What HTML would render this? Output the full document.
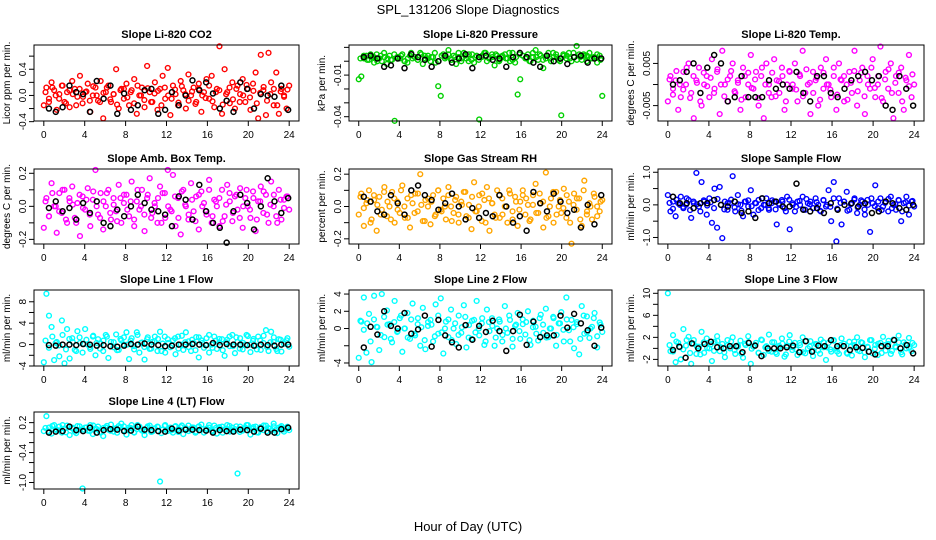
<!DOCTYPE html>
<html><head><meta charset="utf-8"><title>SPL_131206 Slope Diagnostics</title>
<style>
html,body{margin:0;padding:0;background:#fff;}
svg{display:block;font-family:"Liberation Sans",sans-serif;}
</style></head>
<body>
<svg id="chart" width="936" height="540" viewBox="0 0 936 540" xmlns="http://www.w3.org/2000/svg">
<rect x="0" y="0" width="936" height="540" fill="#fff"/>
<text x="468" y="14" text-anchor="middle" font-size="13">SPL_131206  Slope Diagnostics</text>
<text x="468" y="531" text-anchor="middle" font-size="13">Hour of Day (UTC)</text>
</svg>
<script>
const xTicks = [0,4,8,12,16,20,24];

const co2Vals = [-0.15,0.12,-0.05,0.2,0.08,-0.22,0.02,0.15,-0.1,0.05,-0.18,0.22,0.1,-0.02,0.3,-0.12,0.05,0.18,-0.25,0.0,0.12,-0.08,0.22,-0.35,0.05,0.15,-0.1,0.02,0.4,-0.2,0.1,-0.05,0.18,-0.15,0.08,0.25,-0.28,0.0,0.12,-0.18,0.45,0.05,-0.1,0.2,-0.22,0.1,0.3,-0.05,0.42,-0.3,0.15,0.02,-0.15,0.22,0.08,-0.2,0.32,0.0,0.12,-0.1,0.18,-0.25,0.05,0.25,-0.05,0.3,-0.18,0.1,0.75,-0.28,0.4,0.05,-0.12,0.2,-0.2,0.15,0.02,0.25,-0.1,0.1,-0.22,0.18,0.35,-0.35,0.62,0.08,-0.3,0.65,0.2,-0.15,0.35,-0.28,0.1,0.0,-0.2,0.15];
const co2Dense = [0.05,-0.1,0.12,0.0,-0.05,0.15,-0.12,0.08,0.02,-0.15,0.1,-0.02,0.06,-0.08,0.14,0.0,-0.1,0.04,0.12,-0.06,0.02,-0.14,0.08,0.1,-0.03,0.05,-0.12,0.15,0.0,-0.07,0.11,-0.1,0.03,0.07,-0.15,0.12,0.0,-0.05,0.09,-0.11,0.14,0.02,-0.08,0.06,-0.13,0.1,0.0,-0.04,0.15,-0.09,0.05,0.08,-0.14,0.02,0.12,-0.06,0.1,-0.1,0.0,0.16,-0.03,0.07,-0.12,0.04,0.13,-0.08,0.02,0.1,-0.15,0.06,-0.02,0.09];
const co2Black = [-0.2,-0.25,-0.18,0.15,0.05,0.02,-0.25,0.22,-0.05,0.15,-0.28,0.03,-0.22,-0.15,0.08,0.1,-0.28,-0.22,0.05,-0.15,0.0,0.23,0.08,0.2,0.03,-0.2,-0.08,-0.25,0.2,0.1,-0.2,0.02,0.0,-0.02,0.15,-0.22];

const presVals = [-0.013,-0.011,0.002,0.004,0.001,0.003,-0.001,0.005,0.002,0.0,0.003,-0.002,0.004,0.001,-0.043,0.003,0.002,0.005,0.0,-0.001,0.004,0.002,0.003,0.001,0.006,-0.002,0.002,0.004,0.0,0.003,-0.001,-0.018,-0.025,0.005,0.003,0.008,0.001,0.004,-0.002,0.003,0.0,0.006,0.002,0.005,0.001,-0.001,0.004,-0.042,0.003,0.006,0.0,0.002,0.005,-0.003,0.004,0.001,0.003,0.005,0.002,0.0,0.006,-0.001,-0.024,-0.013,0.004,0.002,0.005,0.0,0.003,0.008,0.001,0.004,-0.005,0.002,0.006,0.0,0.003,0.005,0.001,-0.039,0.004,0.002,0.006,0.0,0.003,0.011,0.005,0.001,0.004,0.0,0.006,0.002,0.003,-0.001,0.004,-0.025];
const presDense = [0.002,0.004,0.001,0.005,0.003,0.0,0.004,0.006,0.002,0.001,0.005,0.003,0.004,0.0,0.002,0.006,0.003,0.001,0.005,0.004,0.002,0.003,0.006,0.0,0.004,0.002,0.005,0.001,0.003,0.006,0.002,0.004,0.0,0.005,0.003,0.001,0.004,0.006,0.002,0.003,0.005,0.0,0.004,0.002,0.006,0.001,0.003,0.005,0.004,0.002,0.0,0.006,0.003,0.005,0.001,0.004,0.002,0.006,0.003,0.0,0.005,0.004,0.002,0.006,0.001,0.003,0.005,0.004,0.002,0.003,0.005,0.001];
const presBlack = [0.003,0.004,0.002,-0.004,-0.003,0.002,-0.005,0.005,0.003,0.001,-0.004,0.0,0.004,-0.001,0.002,0.005,-0.005,0.003,0.004,0.001,0.002,-0.004,0.003,0.006,0.003,-0.001,-0.004,0.004,0.0,0.002,-0.002,0.003,0.004,-0.001,0.002,0.002];

const tempVals = [-0.004,0.002,-0.001,0.001,-0.006,-0.003,0.003,0.0,0.005,-0.002,-0.008,0.001,0.004,-0.005,0.0,0.002,-0.003,0.006,-0.001,0.003,-0.007,0.008,0.0,-0.004,0.002,0.005,-0.002,0.001,-0.006,0.004,-0.003,0.0,0.007,-0.001,0.003,-0.005,0.002,-0.008,0.005,0.0,-0.003,0.006,0.001,-0.002,0.004,-0.006,0.0,0.003,-0.001,0.005,-0.004,0.002,0.008,-0.002,0.0,-0.007,0.003,0.001,-0.005,0.004,-0.001,0.006,0.0,-0.003,0.002,-0.006,0.005,0.001,-0.004,0.0,0.003,-0.002,0.008,-0.005,0.001,0.004,-0.007,0.002,-0.001,0.006,-0.003,0.0,0.009,-0.004,0.003,-0.001,0.005,-0.008,0.002,-0.002,0.004,-0.006,0.001,0.007,-0.003,0.0];
const tempDense = [0.0012,-0.0024,0.0032,0,-0.0012,0.004,-0.0032,0.002,0.0004,-0.004,0.0028,-0.0004,0.0016,-0.002,0.0036,0,-0.0028,0.0012,0.0032,-0.0016,0.0004,-0.0036,0.002,0.0028,-0.0008,0.0012,-0.0032,0.004,0,-0.002,0.0028,-0.0028,0.0008,0.002,-0.004,0.0032,0,-0.0012,0.0024,-0.0028,0.0036,0.0004,-0.002,0.0016,-0.0036,0.0028,0,-0.0012,0.004,-0.0024,0.0012,0.002,-0.0036,0.0004,0.0032,-0.0016,0.0028,-0.0028,0,0.004,-0.0008,0.002,-0.0032,0.0012,0.0036,-0.002,0.0004,0.0028,-0.004,0.0016,-0.0004,0.0024];
const tempBlack = [0.0,0.001,0.003,0.005,-0.002,0.004,0.007,0.005,-0.004,-0.003,0.002,-0.003,-0.003,-0.003,0.001,-0.001,0.0,-0.001,0.003,-0.002,-0.004,0.002,0.002,-0.002,-0.003,-0.001,0.001,0.002,0.003,0.001,0.002,-0.005,-0.006,0.002,-0.001,-0.005];

const ambVals = [-0.13,0.05,-0.06,0.14,0.0,-0.16,0.08,-0.04,0.1,-0.1,0.03,0.12,-0.07,0.02,-0.18,0.06,-0.02,0.11,-0.12,0.04,0.22,-0.05,0.08,-0.14,0.0,0.1,-0.08,0.05,-0.03,0.13,-0.1,0.02,0.07,-0.06,0.15,-0.12,0.03,-0.02,0.1,-0.15,0.05,0.17,-0.04,0.0,-0.1,0.12,0.08,-0.07,0.22,-0.02,0.19,-0.12,0.05,-0.17,0.1,0.0,-0.08,0.14,-0.03,0.06,-0.14,0.09,0.02,-0.05,0.16,-0.1,0.04,0.0,-0.12,0.1,-0.06,0.13,0.03,-0.09,0.06,-0.02,0.11,-0.13,0.05,0.0,-0.07,0.09,-0.15,0.03,0.12,-0.04,0.07,-0.1,0.15,0.0,-0.06,0.1,-0.08,0.04,0.06,-0.02];
const ambDense = [0.03,-0.06,0.08,0,-0.03,0.1,-0.08,0.05,0.01,-0.1,0.07,-0.01,0.04,-0.05,0.09,0,-0.07,0.03,0.08,-0.04,0.01,-0.09,0.05,0.07,-0.02,0.03,-0.08,0.1,0,-0.05,0.07,-0.07,0.02,0.05,-0.1,0.08,0,-0.03,0.06,-0.07,0.09,0.01,-0.05,0.04,-0.09,0.07,0,-0.03,0.1,-0.06,0.03,0.05,-0.09,0.01,0.08,-0.04,0.07,-0.07,0,0.1,-0.02,0.05,-0.08,0.03,0.09,-0.05,0.01,0.07,-0.1,0.04,-0.01,0.06];
const ambBlack = [-0.01,0.03,-0.03,-0.01,-0.08,0.02,-0.04,0.03,-0.1,-0.12,-0.02,-0.06,0.0,0.07,0.02,-0.02,-0.03,-0.05,-0.12,0.06,0.04,-0.08,0.13,-0.03,-0.1,-0.13,-0.22,-0.03,0.07,0.02,-0.14,0.0,0.17,0.03,-0.04,0.05];

const rhVals = [-0.05,0.08,-0.12,0.02,0.1,-0.08,0.04,-0.15,0.06,-0.02,0.12,-0.06,0.0,0.09,-0.1,0.03,-0.04,0.13,-0.07,0.05,-0.13,0.02,0.08,-0.03,0.2,-0.09,0.04,0.0,-0.11,0.07,-0.05,0.1,-0.02,0.05,-0.08,0.12,0.0,-0.04,0.06,-0.1,0.03,0.09,-0.06,0.01,-0.14,0.15,-0.03,0.07,-0.09,0.04,0.12,-0.15,0.02,-0.05,0.1,-0.07,0.05,0.0,-0.1,0.08,-0.03,0.06,-0.12,0.03,0.1,-0.05,0.01,-0.08,0.07,0.14,-0.04,0.02,-0.13,0.21,-0.06,0.05,-0.1,0.09,0.0,-0.04,0.11,-0.07,0.03,-0.23,0.08,-0.02,0.05,-0.12,0.16,-0.05,0.02,-0.08,0.06,0.0,-0.03,0.04];
const rhDense = [0.06,-0.01,0.04,-0.1,0.07,0.01,-0.05,0.09,0.03,-0.08,0.05,-0.02,0.1,0,-0.07,0.07,-0.04,0.08,0.01,-0.09,0.05,0.03,-0.06,0.1,-0.03,0,0.07,-0.09,0.04,-0.05,0.01,0.09,-0.07,0.06,-0.03,0,0.08,-0.1,0.05,0.02,-0.07,0.07,-0.05,0,0.1,-0.08,0.03,-0.02,0.07,0.05,-0.09,0.01,-0.04,0.08,0.03,-0.07,0,0.09,-0.05,0.04,-0.01,0.07,-0.1,0.01,0.05,-0.08,0.1,-0.03,0,0.08,-0.06,0.03];
const rhBlack = [0.06,0.03,-0.03,-0.05,0.07,0.02,-0.05,0.1,0.13,0.07,0.04,-0.02,0.02,0.08,0.0,-0.08,-0.01,-0.07,-0.04,-0.06,0.07,0.0,-0.1,-0.06,-0.15,0.09,0.02,-0.03,0.08,0.03,-0.04,-0.02,-0.13,0.01,-0.11,0.07];

const flowVals = [0.3,-0.2,0.1,-0.35,0.05,0.25,-0.1,0.0,0.15,-0.4,0.05,0.98,-0.05,0.7,0.1,-0.3,0.2,-0.55,0.5,-0.7,0.55,-1.02,0.1,-0.15,0.05,0.88,-0.2,0.3,0.0,-0.35,0.1,-0.05,0.45,-0.3,0.05,0.15,-0.1,0.0,0.2,-0.15,0.05,0.1,-0.6,0.0,0.15,-0.1,0.25,-0.75,0.05,-0.2,0.1,0.0,0.25,-0.15,0.05,0.1,-0.1,0.2,0.0,-0.2,0.15,-0.05,0.45,-0.5,0.7,-1.12,0.2,-0.6,0.1,0.4,-0.15,0.05,0.2,-0.25,0.0,0.1,-0.3,0.15,-0.83,0.05,0.6,-0.1,0.2,-0.05,0.1,-0.2,0.25,0.0,-0.15,0.15,-0.5,0.05,0.25,-0.3,0.1,-0.05];
const flowDense = [0.06,-0.12,0.16,0,-0.06,0.2,-0.16,0.1,0.02,-0.2,0.14,-0.02,0.08,-0.1,0.18,0,-0.14,0.06,0.16,-0.08,0.02,-0.18,0.1,0.14,-0.04,0.06,-0.16,0.2,0,-0.1,0.14,-0.14,0.04,0.1,-0.2,0.16,0,-0.06,0.12,-0.14,0.18,0.02,-0.1,0.08,-0.18,0.14,0,-0.06,0.2,-0.12,0.06,0.1,-0.18,0.02,0.16,-0.08,0.14,-0.14,0,0.2,-0.04,0.1,-0.16,0.06,0.18,-0.1,0.02,0.14,-0.2,0.08,-0.02,0.12];
const flowBlack = [0.25,0.05,0.05,-0.1,0.05,0.05,0.15,0.0,-0.05,0.1,-0.25,-0.2,-0.4,0.2,0.05,0.1,-0.05,-0.05,0.65,-0.15,-0.2,-0.1,-0.25,0.05,-0.15,0.0,0.05,-0.05,0.05,-0.25,-0.2,0.1,0.05,-0.1,-0.15,0.0];

const line1Vals = [-3.3,9.5,5.4,3.3,-2.9,0.5,-2.2,4.5,-3.5,2.9,-2.6,1.2,-1.0,2.5,0.3,-1.5,2.9,0.0,-0.8,1.5,-2.0,1.0,0.2,-1.2,1.8,-2.5,0.5,-0.5,1.9,-1.0,0.8,0.0,2.3,-2.7,1.2,-0.3,2.3,-1.5,0.4,-2.8,1.0,-0.8,0.5,1.5,-1.2,2.4,0.2,-1.5,1.0,-0.5,0.8,-1.8,1.5,0.0,-1.0,2.3,0.6,-1.2,0.3,1.4,-2.4,0.8,-0.6,1.2,-1.5,0.0,1.5,-0.8,0.4,1.0,-2.1,0.9,-0.3,1.8,-1.6,0.5,1.2,-0.9,0.0,1.6,-1.4,0.7,-0.2,1.5,-1.0,0.3,2.7,-1.2,2.4,0.5,-0.8,1.0,-1.3,0.2,0.8,-0.4];
const line1Dense = [0.75,-0.6,1.5,0.3,-0.15,1.8,-0.9,1.05,0.45,-1.2,1.35,0.15,0.9,-0.45,1.65,0.3,-0.75,0.75,1.5,-0.3,0.45,-1.05,1.05,1.35,0,0.75,-0.9,1.8,0.3,-0.45,1.35,-0.75,0.6,1.05,-1.2,1.5,0.3,-0.15,1.2,-0.75,1.65,0.45,-0.45,0.9,-1.05,1.35,0.3,-0.15,1.8,-0.6,0.75,1.05,-1.05,0.45,1.5,-0.3,1.35,-0.75,0.3,1.8,0,1.05,-0.9,0.75,1.65,-0.45,0.45,1.35,-1.2,0.9,0.15,1.2];
const line1Black = [-0.1,-0.2,0.0,0.0,-0.1,0.1,0.0,-0.2,-0.1,-0.3,-0.4,-0.2,0.1,0.0,0.2,0.0,-0.1,-0.3,-0.2,0.0,0.0,0.1,0.0,-0.1,0.3,-0.1,0.1,0.0,0.0,-0.1,-0.2,0.0,-0.1,-0.2,0.0,0.0];

const line2Vals = [-3.4,0.8,3.6,-2.8,1.7,-3.9,3.8,0.2,-2.5,4.0,-1.0,2.1,0.5,-1.6,3.2,-0.4,1.2,-2.7,0.0,1.8,-1.2,2.9,-0.8,0.5,-2.0,2.4,-2.4,0.3,1.0,-1.5,2.8,-0.6,3.5,-2.9,0.8,-1.0,2.2,0.0,-1.8,1.5,-0.5,2.7,-2.2,0.4,-1.2,1.0,3.2,-0.8,0.6,-1.9,2.2,-0.3,1.2,-2.0,0.0,0.8,-1.5,2.6,-0.5,1.0,-2.1,0.3,1.8,-1.2,0.5,-0.7,2.0,-1.9,0.9,0.2,-1.4,1.6,-0.5,2.3,-1.0,0.0,1.2,-2.0,0.6,1.9,-1.5,3.6,-0.2,1.0,-2.3,0.5,-3.0,2.6,-0.6,1.4,-1.1,0.2,1.8,-2.2,0.7,-0.4];
const line2Dense = [0.9,-0.15,0.6,-1.5,1.05,0.15,-0.75,1.35,0.45,-1.2,0.75,-0.3,1.5,0,-1.05,1.05,-0.6,1.2,0.15,-1.35,0.75,0.45,-0.9,1.5,-0.45,0,1.05,-1.35,0.6,-0.75,0.15,1.35,-1.05,0.9,-0.45,0,1.2,-1.5,0.75,0.3,-1.05,1.05,-0.75,0,1.5,-1.2,0.45,-0.3,1.05,0.75,-1.35,0.15,-0.6,1.2,0.45,-1.05,0,1.35,-0.75,0.6,-0.15,1.05,-1.5,0.15,0.75,-1.2,1.5,-0.45,0,1.2,-0.9,0.45];
const line2Black = [-2.2,0.2,-0.7,2.0,0.3,0.0,1.8,-0.6,-0.1,1.5,-2.1,1.0,-0.8,-1.6,-2.2,0.4,-1.3,0.3,-0.4,0.9,-0.3,-2.6,-0.3,1.6,-1.9,0.8,-1.0,-0.8,-0.8,1.5,0.1,1.7,0.6,-0.2,-2.0,0.1];

const line3Vals = [10,-0.5,2.4,-2.5,1.0,-2.0,3.5,0.5,2.1,-2.8,1.5,-1.0,0.3,3.0,-0.8,1.8,0.0,-2.3,1.2,2.2,-0.5,0.8,-1.6,1.5,0.0,2.0,-1.0,0.5,1.4,-1.7,0.6,2.2,-2.8,0.3,1.0,-0.8,1.6,-1.2,0.4,2.5,-0.6,1.1,-1.0,0.2,1.8,-1.5,0.5,2.4,-0.3,1.0,-1.2,0.6,2.0,-0.9,0.0,1.3,-1.4,0.8,-0.4,1.6,0.2,-2.1,1.0,-0.6,1.4,0.0,-1.0,1.8,0.4,-0.8,1.2,-1.3,0.6,2.0,-0.5,1.0,-1.6,0.3,1.5,-0.9,0.6,-1.2,1.0,2.1,-0.4,0.8,-1.0,1.6,0.2,2.3,-0.7,1.1,0.0,1.9,-0.5,0.6];
const line3Dense = [0.59,-0.58,1.24,0.2,-0.19,1.5,-0.84,0.85,0.33,-1.1,1.11,0.07,0.72,-0.45,1.37,0.2,-0.71,0.59,1.24,-0.32,0.33,-0.97,0.85,1.11,-0.06,0.59,-0.84,1.5,0.2,-0.45,1.11,-0.71,0.46,0.85,-1.1,1.24,0.2,-0.19,0.98,-0.71,1.37,0.33,-0.45,0.72,-0.97,1.11,0.2,-0.19,1.5,-0.58,0.59,0.85,-0.97,0.33,1.24,-0.32,1.11,-0.71,0.2,1.5,-0.06,0.85,-0.84,0.59,1.37,-0.45,0.33,1.11,-1.1,0.72,0.07,0.98];
const line3Black = [-0.3,0.3,-1.7,0.9,0.0,0.8,1.2,0.2,0.0,0.4,0.4,-0.7,1.0,0.5,-1.4,0.0,0.0,0.0,0.2,0.5,-0.7,1.3,-0.6,0.5,0.4,1.5,0.4,0.4,-0.3,0.2,0.1,-0.6,-1.1,0.4,0.4,1.5,0.0,0.6,-0.9];

const line4Vals = [0.03,0.33,0.1,-0.02,0.15,0.05,0.12,0.0,0.08,0.14,-0.05,0.1,0.02,0.13,0.06,-1.12,0.1,0.04,0.15,-0.03,0.08,0.12,0.0,-0.07,0.1,0.06,0.16,0.02,0.09,0.13,0.18,0.05,-0.04,0.1,0.15,0.0,0.07,0.12,0.04,-0.05,0.1,0.14,0.02,0.08,0.12,-0.98,0.06,0.15,0.03,0.1,0.0,0.13,0.07,0.11,-0.03,0.09,0.14,0.05,0.1,0.02,0.12,0.16,0.0,0.08,0.1,0.04,0.14,-0.02,0.09,0.12,0.06,0.15,0.02,0.1,0.07,-0.82,0.12,0.04,0.1,0.15,-0.04,0.08,0.12,0.0,0.11,0.05,0.14,0.09,0.03,0.18,0.06,0.1,0.13,0.02,0.08,0.05];
const line4Dense = [0.094,0.022,0.134,0.07,0.046,0.15,0.006,0.11,0.078,-0.01,0.126,0.062,0.102,0.03,0.142,0.07,0.014,0.094,0.134,0.038,0.078,-0.002,0.11,0.126,0.054,0.094,0.006,0.15,0.07,0.03,0.126,0.014,0.086,0.11,-0.01,0.134,0.07,0.046,0.118,0.014,0.142,0.078,0.03,0.102,-0.002,0.126,0.07,0.046,0.15,0.022,0.094,0.11,-0.002,0.078,0.134,0.038,0.126,0.014,0.07,0.15,0.054,0.11,0.006,0.094,0.142,0.03,0.078,0.126,-0.01,0.102,0.062,0.118];
const line4Black = [0.0,0.02,0.03,0.12,0.05,0.03,0.1,0.0,0.05,0.07,0.06,0.03,0.04,0.12,0.06,0.05,0.03,0.02,0.08,0.04,0.06,0.06,0.05,0.04,0.0,0.05,0.03,0.02,0.06,0.05,0.02,0.08,0.0,0.0,0.07,0.1];

const co2Ticks = [-0.4,-0.2,0,0.2,0.4,0.6];
const co2Labels = ["-0.4","","0.0","","0.4",""];
const presTicks = [-0.04,-0.03,-0.02,-0.01,0,0.01];
const presLabels = ["-0.04","","","-0.01","",""];
const tempTicks = [-0.005,0,0.005];
const tempLabels = ["-0.005","","0.005"];
const ambTicks = [-0.2,-0.1,0,0.1,0.2];
const ambLabels = ["-0.2","","0.0","","0.2"];
const rhTicks = [-0.2,-0.1,0,0.1,0.2];
const rhLabels = ["-0.2","","0.0","","0.2"];
const flowTicks = [-1,-0.5,0,0.5,1];
const flowLabels = ["-1.0","","0.0","","1.0"];
const line1Ticks = [-4,-2,0,2,4,6,8];
const line1Labels = ["-4","","0","","4","","8"];
const line2Ticks = [-4,-2,0,2,4];
const line2Labels = ["-4","","0","2","4"];
const line3Ticks = [-2,0,2,4,6,8,10];
const line3Labels = ["-2","","2","","6","","10"];
const line4Ticks = [-1.0,-0.8,-0.6,-0.4,-0.2,0,0.2];
const line4Labels = ["-1.0","","","-0.4","","","0.2"];

const panels = [
 {id:"co2",title:"Slope Li-820 CO2",ylab:"Licor ppm per min.",col:"#ff0000",vals:co2Vals,dense:co2Dense,blk:co2Black,ticks:co2Ticks,labels:co2Labels,L:34,R:299,T:45,B:121,yMin:-0.39,yMax:0.77},
 {id:"pressure",title:"Slope Li-820 Pressure",ylab:"kPa per min.",col:"#00d000",vals:presVals,dense:presDense,blk:presBlack,ticks:presTicks,labels:presLabels,L:349,R:612,T:45,B:121,yMin:-0.0431,yMax:0.0117},
 {id:"temp",title:"Slope Li-820 Temp.",ylab:"degrees C per min.",col:"#ff00ff",vals:tempVals,dense:tempDense,blk:tempBlack,ticks:tempTicks,labels:tempLabels,L:658,R:924,T:45,B:121,yMin:-0.00865,yMax:0.00937},
 {id:"amb-box-temp",title:"Slope Amb. Box Temp.",ylab:"degrees C per min.",col:"#ff00ff",vals:ambVals,dense:ambDense,blk:ambBlack,ticks:ambTicks,labels:ambLabels,L:34,R:299,T:169,B:244,yMin:-0.228,yMax:0.226},
 {id:"gas-rh",title:"Slope Gas Stream RH",ylab:"percent per min.",col:"#ffa500",vals:rhVals,dense:rhDense,blk:rhBlack,ticks:rhTicks,labels:rhLabels,L:349,R:612,T:169,B:244,yMin:-0.232,yMax:0.232},
 {id:"sample-flow",title:"Slope Sample Flow",ylab:"ml/min per min.",col:"#0000ff",vals:flowVals,dense:flowDense,blk:flowBlack,ticks:flowTicks,labels:flowLabels,L:658,R:924,T:169,B:244,yMin:-1.2,yMax:1.1},
 {id:"line1",title:"Slope Line 1 Flow",ylab:"ml/min per min.",col:"#00ffff",vals:line1Vals,dense:line1Dense,blk:line1Black,ticks:line1Ticks,labels:line1Labels,L:34,R:299,T:290,B:366,yMin:-4.0,yMax:10.2},
 {id:"line2",title:"Slope Line 2 Flow",ylab:"ml/min per min.",col:"#00ffff",vals:line2Vals,dense:line2Dense,blk:line2Black,ticks:line2Ticks,labels:line2Labels,L:349,R:612,T:290,B:366,yMin:-4.35,yMax:4.47},
 {id:"line3",title:"Slope Line 3 Flow",ylab:"ml/min per min.",col:"#00ffff",vals:line3Vals,dense:line3Dense,blk:line3Black,ticks:line3Ticks,labels:line3Labels,L:658,R:924,T:290,B:366,yMin:-3.2,yMax:10.6},
 {id:"line4",title:"Slope Line 4 (LT) Flow",ylab:"ml/min per min.",col:"#00ffff",vals:line4Vals,dense:line4Dense,blk:line4Black,ticks:line4Ticks,labels:line4Labels,L:34,R:299,T:412,B:489,yMin:-1.13,yMax:0.413}
];

const NS = "http://www.w3.org/2000/svg";
const svg = document.getElementById("chart");
function mk(tag, attrs, parent){
  const e = document.createElementNS(NS, tag);
  for (const k in attrs) e.setAttribute(k, attrs[k]);
  (parent||svg).appendChild(e);
  return e;
}

panels.forEach(p => {
  const g = mk("g", {});
  
  
  const xs = h => p.L + (h + 0.96) / 25.92 * (p.R - p.L);
  const ys = v => p.B - (v - p.yMin) / (p.yMax - p.yMin) * (p.B - p.T);

  const t = mk("text", {x:(p.L+p.R)/2, y:p.T-7, "text-anchor":"middle", "font-size":"11", "font-weight":"bold"}, g);
  t.textContent = p.title;
  
  

  const yl = mk("text", {x:0, y:0, "text-anchor":"middle", "font-size":"10", transform:`translate(${p.L-24},${(p.T+p.B)/2}) rotate(-90)`}, g);
  yl.textContent = p.ylab;
  
  

  const k = p.dense.length;
  p.dense.forEach((v, i) => {
    const c = mk("circle", {cx:xs((i+0.5)*24/k), cy:ys(v), r:2.4, fill:"none", stroke:p.col, "stroke-width":1.4}, g);
    
    
  });
  const n = p.vals.length;
  p.vals.forEach((v, i) => {
    const c = mk("circle", {cx:xs(i*24/(n-1)), cy:ys(v), r:2.4, fill:"none", stroke:p.col, "stroke-width":1.4}, g);
    
    
  });
  const m = p.blk.length;
  p.blk.forEach((v, i) => {
    const c = mk("circle", {cx:xs(0.5 + i*23.4/(m-1)), cy:ys(v), r:2.5, fill:"none", stroke:"#000", "stroke-width":1.5}, g);
    
    
  });

  const box = mk("rect", {x:p.L, y:p.T, width:p.R-p.L, height:p.B-p.T, fill:"none", stroke:"#000", "stroke-width":1}, g);
  
  

  xTicks.forEach(h => {
    const x = xs(h);
    const tk = mk("line", {x1:x, x2:x, y1:p.B, y2:p.B+5, stroke:"#000"}, g);
    
    
    const lb = mk("text", {x:x, y:p.B+17, "text-anchor":"middle", "font-size":"10"}, g);
    lb.textContent = h;
    
    
  });
  p.ticks.forEach((v, i) => {
    const y = ys(v);
    const tk = mk("line", {x1:p.L-5, x2:p.L, y1:y, y2:y, stroke:"#000"}, g);
    
    
    if (p.labels[i]) {
      const lb = mk("text", {x:0, y:0, "text-anchor":"middle", "font-size":"10", transform:`translate(${p.L-8},${y}) rotate(-90)`}, g);
      lb.textContent = p.labels[i];
      
      
    }
  });
});
</script>
</body></html>
